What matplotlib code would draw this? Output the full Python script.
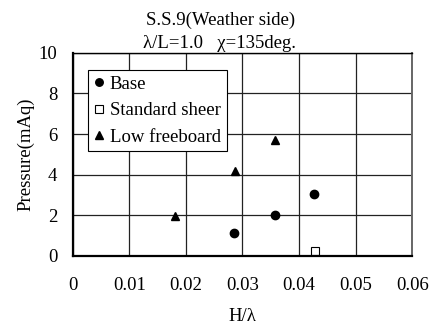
import matplotlib
matplotlib.use("Agg")
import matplotlib.pyplot as plt

plt.rcParams['font.family'] = ['Liberation Serif', 'DejaVu Serif']

# values
base_x = [0.0285, 0.0358, 0.0427]
base_y = [1.15, 2.02, 3.03]
sheer_x = [0.0429]
sheer_y = [0.25]
low_x = [0.0180, 0.0286, 0.0358]
low_y = [1.95, 4.2, 5.7]

xticks = [0, 0.01, 0.02, 0.03, 0.04, 0.05, 0.06]
xlabels = ['0', '0.01', '0.02', '0.03', '0.04', '0.05', '0.06']
yticks = [0, 2, 4, 6, 8, 10]

fs = 13.5

fig = plt.figure(figsize=(4.33, 3.24), dpi=100)
ax = fig.add_axes([0.168, 0.210, 0.784, 0.627])

ax.plot(base_x, base_y, 'o', color='black', ms=6, label='Base', clip_on=False)
ax.plot(sheer_x, sheer_y, 's', mfc='white', mec='black', mew=0.8, ms=6,
        label='Standard sheer', clip_on=False)
ax.plot(low_x, low_y, '^', color='black', ms=6, label='Low freeboard', clip_on=False)

ax.set_xlim(0, 0.06)
ax.set_ylim(0, 10)
ax.set_xticks(xticks)
ax.set_xticklabels(xlabels)
ax.set_yticks(yticks)
ax.tick_params(length=0, labelsize=fs)
ax.tick_params(axis='x', pad=15)
ax.tick_params(axis='y', pad=11)
ax.grid(True, color='#222222', lw=0.9)
ax.set_axisbelow(True)
for s in ax.spines.values():
    s.set_linewidth(1.0)
ax.spines['left'].set_linewidth(1.6)
ax.spines['bottom'].set_linewidth(1.6)
ax.spines['right'].set_color('#666666')
ax.spines['right'].set_linewidth(1.4)

ax.set_xlabel('H/λ', fontsize=fs)
ax.xaxis.set_label_coords(0.5, -0.255)
ax.set_ylabel('Pressure(mAq)', fontsize=fs)
ax.yaxis.set_label_coords(-0.112, 0.5)

leg = ax.legend(loc='upper left', bbox_to_anchor=(0.046, 0.915), fontsize=fs,
                frameon=True, fancybox=False, edgecolor='black', framealpha=1,
                handlelength=0.5, handletextpad=0.35, borderpad=0.3,
                labelspacing=0.5, markerscale=0.9, borderaxespad=0)
leg.get_frame().set_linewidth(0.8)

fig.text(0.51, 0.936, 'S.S.9(Weather side)', ha='center', va='center', fontsize=fs)
fig.text(0.506, 0.865, 'λ/L=1.0   χ=135deg.', ha='center', va='center', fontsize=fs)

fig.savefig('out.png', dpi=100)
